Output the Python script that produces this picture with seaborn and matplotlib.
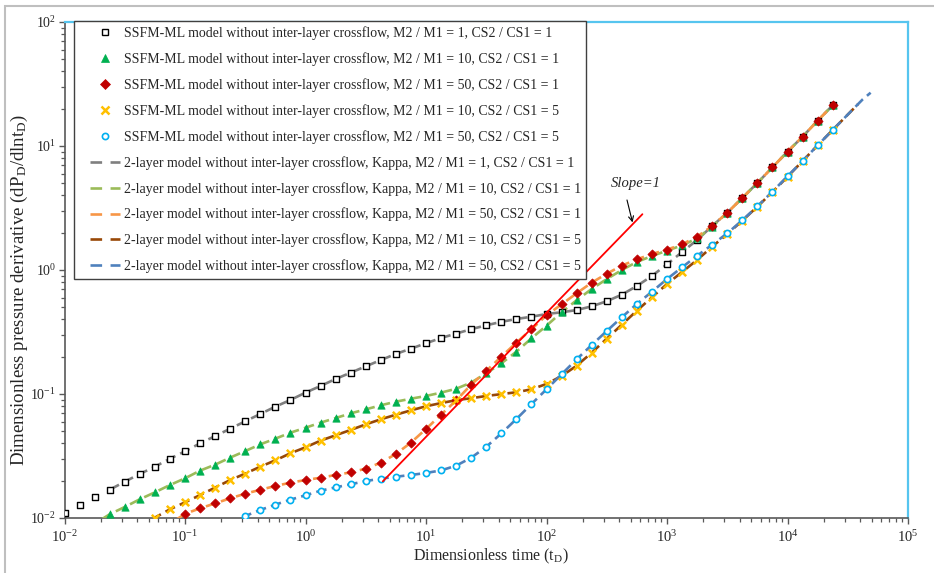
import numpy as np
import pandas as pd
import seaborn as sns
import matplotlib
matplotlib.use("Agg")
import matplotlib.pyplot as plt
from matplotlib.lines import Line2D
from matplotlib.patches import Rectangle
from matplotlib.legend_handler import HandlerLine2D
from matplotlib.ticker import LogLocator, FuncFormatter, NullFormatter

# ---------------------------------------------------------------------------
# Data: dimensionless time grid (8 samples per log cycle) and the
# dimensionless pressure derivative of each case on that grid.
# ---------------------------------------------------------------------------
dimless_time = [
    0.01, 0.01334, 0.01778, 0.02371, 0.03162, 0.04217, 0.05623, 0.07499,
    0.1, 0.1334, 0.1778, 0.2371, 0.3162, 0.4217, 0.5623, 0.7499,
    1.0, 1.334, 1.778, 2.371, 3.162, 4.217, 5.623, 7.499,
    10.0, 13.34, 17.78, 23.71, 31.62, 42.17, 56.23, 74.99,
    100.0, 133.4, 177.8, 237.1, 316.2, 421.7, 562.3, 749.9,
    1000.0, 1334.0, 1778.0, 2371.0, 3162.0, 4217.0, 5623.0, 7499.0,
    10000.0, 13340.0, 17780.0, 23710.0,
]

# M2/M1 = 1, CS2/CS1 = 1  (starts at grid index 0)
deriv_m1_cs1 = [
    0.01091, 0.01265, 0.01469, 0.01690, 0.01963, 0.02265, 0.02594, 0.03006,
    0.03451, 0.03999, 0.04581, 0.05248, 0.06026, 0.06902, 0.07907, 0.08954,
    0.1026, 0.1161, 0.1321, 0.1486, 0.1671, 0.1879, 0.2104, 0.2323,
    0.2564, 0.2831, 0.3069, 0.3334, 0.3581, 0.3819, 0.4027, 0.4198,
    0.4416, 0.4560, 0.4753, 0.5093, 0.5598, 0.6324, 0.7430, 0.8954,
    1.112, 1.396, 1.746, 2.265, 2.897, 3.811, 5.035, 6.730,
    8.995, 11.89, 16.00, 21.28,
]
start_m1_cs1 = 0

# M2/M1 = 10, CS2/CS1 = 1  (starts at grid index 3)
deriv_m10_cs1 = [
    0.01072, 0.01227, 0.01416, 0.01611, 0.01845,
    0.02089, 0.02410, 0.02692, 0.03069, 0.03467, 0.03926, 0.04365, 0.04875,
    0.05346, 0.05875, 0.06397, 0.06982, 0.07516, 0.08110, 0.08670, 0.09162,
    0.09638, 0.1026, 0.1102, 0.1236, 0.1469, 0.1766, 0.2193, 0.2812,
    0.3556, 0.4560, 0.5702, 0.7031, 0.8453, 1.000, 1.161, 1.297,
    1.432, 1.581, 1.799, 2.234, 2.897, 3.811, 5.035, 6.730,
    8.995, 11.89, 16.00, 21.28,
]
start_m10_cs1 = 3

# M2/M1 = 50, CS2/CS1 = 1  (starts at grid index 8)
deriv_m50_cs1 = [
    0.01081, 0.01197, 0.01312, 0.01442, 0.01570, 0.01690, 0.01811, 0.01928,
    0.02023, 0.02113, 0.02223, 0.02333, 0.02500, 0.02793, 0.03281, 0.04055,
    0.05224, 0.06808, 0.08872, 0.1189, 0.1535, 0.2000, 0.2594, 0.3327,
    0.4315, 0.5284, 0.6486, 0.7907, 0.9333, 1.084, 1.219, 1.346,
    1.459, 1.611, 1.858, 2.265, 2.897, 3.811, 5.035, 6.730,
    8.995, 11.89, 16.00, 21.28,
]
start_m50_cs1 = 8

# M2/M1 = 10, CS2/CS1 = 5  (starts at grid index 6)
deriv_m10_cs5 = [
    0.01007, 0.01175, 0.01337, 0.01531, 0.01758, 0.02023, 0.02280, 0.02594,
    0.02917, 0.03327, 0.03715, 0.04207, 0.04645, 0.05129, 0.05689, 0.06252,
    0.06808, 0.07379, 0.07962, 0.08453, 0.08913, 0.09247, 0.09638, 0.09977,
    0.1033, 0.1091, 0.1205, 0.1396, 0.1690, 0.2153, 0.2793, 0.3622,
    0.4699, 0.6026, 0.7709, 0.9638, 1.205, 1.542, 1.950, 2.500,
    3.243, 4.256, 5.649, 7.568, 10.12, 13.46,
]
start_m10_cs5 = 6

# M2/M1 = 50, CS2/CS1 = 5  (starts at grid index 12)
deriv_m50_cs5 = [
    0.01038, 0.01161, 0.01282, 0.01406, 0.01524, 0.01660, 0.01766, 0.01871,
    0.01986, 0.02075, 0.02153, 0.02223, 0.02307, 0.02421, 0.02642, 0.03062,
    0.03750, 0.04808, 0.06281, 0.08299, 0.1091, 0.1442, 0.1905, 0.2483,
    0.3221, 0.4159, 0.5321, 0.6683, 0.8453, 1.052, 1.303, 1.600,
    1.977, 2.518, 3.266, 4.285, 5.702, 7.568, 10.12, 13.46,
]
start_m50_cs5 = 12

# Analytical (Kappa) curves: early-time and late-time points beyond the
# SSFM-ML samples (time, derivative)
kappa_head_m10_cs1 = ([0.0205], [0.0098])
kappa_head_m50_cs1 = ([0.086], [0.0098])
kappa_head_m10_cs5 = ([0.060], [0.0098])
kappa_head_m50_cs5 = ([0.30], [0.0098])
kappa_tail_m10_cs5 = ([31620.0, 38600.0], [17.91, 21.8])
kappa_tail_m50_cs5 = ([31620.0, 42170.0, 48980.0], [17.91, 23.82, 26.9])

# Unit-slope reference line
slope_value = 1.0
slope_coeff = 0.00451
slope_time = [4.38, 625.0]

legend_ssfm = [
    "SSFM-ML model without inter-layer crossflow, M2 / M1 = 1, CS2 / CS1 = 1",
    "SSFM-ML model without inter-layer crossflow, M2 / M1 = 10, CS2 / CS1 = 1",
    "SSFM-ML model without inter-layer crossflow, M2 / M1 = 50, CS2 / CS1 = 1",
    "SSFM-ML model without inter-layer crossflow, M2 / M1 = 10, CS2 / CS1 = 5",
    "SSFM-ML model without inter-layer crossflow, M2 / M1 = 50, CS2 / CS1 = 5",
]
legend_kappa = [
    "2-layer model without inter-layer crossflow, Kappa, M2 / M1 = 1, CS2 / CS1 = 1",
    "2-layer model without inter-layer crossflow, Kappa, M2 / M1 = 10, CS2 / CS1 = 1",
    "2-layer model without inter-layer crossflow, Kappa, M2 / M1 = 50, CS2 / CS1 = 1",
    "2-layer model without inter-layer crossflow, Kappa, M2 / M1 = 10, CS2 / CS1 = 5",
    "2-layer model without inter-layer crossflow, Kappa, M2 / M1 = 50, CS2 / CS1 = 5",
]

# ---------------------------------------------------------------------------
# Styling
# ---------------------------------------------------------------------------
sns.set_style("ticks")
plt.rcParams["font.family"] = ["Liberation Serif", "DejaVu Serif"]
plt.rcParams["mathtext.fontset"] = "custom"
plt.rcParams["mathtext.rm"] = "Liberation Serif"
plt.rcParams["mathtext.it"] = "Liberation Serif:italic"
plt.rcParams["mathtext.default"] = "regular"

AXIS_GRAY = "#595959"
FRAME_BLUE = "#56C5EF"

fig = plt.figure(figsize=(9.34, 5.73), dpi=100)
ax = fig.add_axes([64.5 / 934, 1 - 518 / 573, (908 - 64.5) / 934, (518 - 22) / 573])

# outer chart border
fig.patches.append(Rectangle((4.5 / 934, -0.2), 1.2, 1.2 - 5.5 / 573,
                             transform=fig.transFigure, fill=False,
                             edgecolor="#BFBFBF", linewidth=1.5))

series = [
    ("m1_cs1", start_m1_cs1, deriv_m1_cs1, None, None),
    ("m10_cs1", start_m10_cs1, deriv_m10_cs1, kappa_head_m10_cs1, None),
    ("m50_cs1", start_m50_cs1, deriv_m50_cs1, kappa_head_m50_cs1, None),
    ("m10_cs5", start_m10_cs5, deriv_m10_cs5, kappa_head_m10_cs5, kappa_tail_m10_cs5),
    ("m50_cs5", start_m50_cs5, deriv_m50_cs5, kappa_head_m50_cs5, kappa_tail_m50_cs5),
]

line_colors = ["#7F7F7F", "#9BBB59", "#F79646", "#984807", "#4F81BD"]
DASH = (0, (4, 2))

frames = []
for name, start, vals, head, tail in series:
    t = dimless_time[start:start + len(vals)]
    frames.append(pd.DataFrame({"t": t, "d": vals}))

# analytical model curves (dashed)
for (name, start, vals, head, tail), df, col in zip(series, frames, line_colors):
    lt = list(df["t"])
    ld = list(df["d"])
    if name == "m1_cs1":
        lt, ld = lt[3:], ld[3:]
    if head is not None:
        lt = head[0] + lt
        ld = head[1] + ld
    if tail is not None:
        lt = lt + tail[0]
        ld = ld + tail[1]
    sns.lineplot(x=lt, y=ld, ax=ax, color=col, linewidth=1.9, linestyle=DASH,
                 sort=False, estimator=None, zorder=3, dash_capstyle="butt")

# SSFM-ML samples (markers)
marker_specs = [
    dict(marker="s", s=19, color="white", edgecolor="black", linewidth=1.0),
    dict(marker="^", s=28, color="#00B050", edgecolor="#00B050", linewidth=0.5),
    dict(marker="D", s=22, color="#C00000", edgecolor="#C00000", linewidth=0.5),
    dict(marker="x", s=28, color="#FFC000", linewidth=1.8),
    dict(marker="o", s=20, color="white", edgecolor="#00B0F0", linewidth=1.2),
]
for df, spec in zip(frames, marker_specs):
    sns.scatterplot(data=df, x="t", y="d", ax=ax, zorder=5, legend=False, **spec)

# unit-slope reference line
slope_d = [slope_coeff * tt ** slope_value for tt in slope_time]
sns.lineplot(x=slope_time, y=slope_d, ax=ax, color="#FF0000", linewidth=1.3,
             sort=False, estimator=None, zorder=6)

ax.text(551, 4.99, "Slope=1", fontsize=10.5, fontstyle="italic",
        ha="center", va="center", zorder=7)
ax.annotate("", xy=(517.6, 2.42), xytext=(465.6, 3.67),
            arrowprops=dict(arrowstyle="->", color="black", lw=0.8,
                            shrinkA=0, shrinkB=0, mutation_scale=9),
            zorder=7)

# axes
ax.set_xscale("log")
ax.set_yscale("log")
ax.set_xlim(1e-2, 1e5)
ax.set_ylim(1e-2, 1e2)


def pow10(v, pos):
    e = int(round(np.log10(v)))
    return r"$10^{%d}$" % e


for axis in (ax.xaxis, ax.yaxis):
    axis.set_major_locator(LogLocator(base=10, numticks=20))
    axis.set_minor_locator(LogLocator(base=10, subs=np.arange(2, 10), numticks=20))
    axis.set_major_formatter(FuncFormatter(pow10))
    axis.set_minor_formatter(NullFormatter())

ax.tick_params(which="major", direction="out", length=4.5, width=1.0,
               color=AXIS_GRAY, labelsize=10.5)
ax.tick_params(axis="x", which="major", pad=3.5)
ax.tick_params(axis="y", which="major", pad=1.5, labelsize=10)
ax.tick_params(which="minor", direction="out", length=3, width=0.9, color=AXIS_GRAY,
               labelbottom=False, labelleft=False)
ax.tick_params(top=False, right=False, which="both")

for side in ("left", "bottom"):
    ax.spines[side].set_color(AXIS_GRAY)
    ax.spines[side].set_linewidth(1.2)
for side in ("top", "right"):
    ax.spines[side].set_visible(True)
    ax.spines[side].set_color(FRAME_BLUE)
    ax.spines[side].set_linewidth(1.6)

ax.set_xlabel(r"Dimensionless time (t$_\mathrm{D}$)", fontsize=11.5)
ax.set_ylabel(r"Dimensionless pressure derivative (dP$_\mathrm{D}$/dlnt$_\mathrm{D}$)",
              fontsize=13.6)
ax.xaxis.set_label_coords((491 - 64.5) / 843.5, -(556 - 518) / 496)
ax.yaxis.set_label_coords(-(64.5 - 19.5) / 843.5, (518 - 290) / 496)
ax.xaxis.label.set_va("center")
ax.yaxis.label.set_va("center")


# legend
class InsetHandler(HandlerLine2D):
    def __init__(self, inset, **kw):
        super().__init__(**kw)
        self.inset = inset

    def create_artists(self, legend, orig_handle, xdescent, ydescent, width,
                       height, fontsize, trans):
        return super().create_artists(legend, orig_handle, xdescent - self.inset,
                                      ydescent, width - self.inset, height,
                                      fontsize, trans)


handles = []
for spec in marker_specs:
    fc = spec["color"]
    ec = spec.get("edgecolor", spec["color"])
    handles.append(Line2D([], [], linestyle="none", marker=spec["marker"],
                          markersize=np.sqrt(spec["s"]), markerfacecolor=fc,
                          markeredgecolor=ec, markeredgewidth=spec["linewidth"]))
for col in line_colors:
    handles.append(Line2D([], [], color=col, linewidth=1.9,
                          linestyle=(0, (4.4, 3.2)), dash_capstyle="butt"))

labels = legend_ssfm + legend_kappa
hmap = {h: InsetHandler(7.2, numpoints=1) for h in handles}
leg = ax.legend(handles, labels, loc="upper left",
                bbox_to_anchor=((74 - 64.5) / 843.5, 1.002), borderaxespad=0,
                fontsize=10, frameon=True, fancybox=False, framealpha=1,
                edgecolor="#404040", borderpad=0.4, labelspacing=0.87,
                handlelength=2.88, handletextpad=0.3, handler_map=hmap)
leg.get_frame().set_linewidth(1.0)
leg.set_zorder(10)

fig.savefig("out.png", dpi=100)
